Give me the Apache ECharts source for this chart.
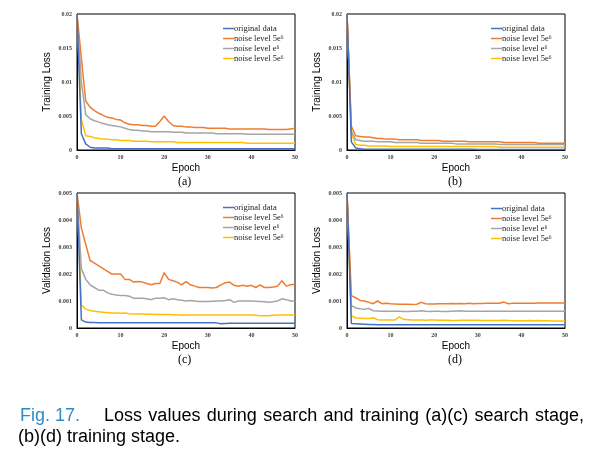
<!DOCTYPE html>
<html><head><meta charset="utf-8">
<script src="https://cdn.jsdelivr.net/npm/echarts@6/dist/echarts.min.js"></script>
<style>html,body{margin:0;padding:0;background:#fff}#c{width:595px;height:454px}</style>
</head><body><div id="c"></div>
<script>
const epochs = [0,1,2,3,4,5,6,7,8,9,10,11,12,13,14,15,16,17,18,19,20,21,22,23,24,25,26,27,28,29,30,31,32,33,34,35,36,37,38,39,40,41,42,43,44,45,46,47,48,49,50];
const xTicks = [0,10,20,30,40,50];
const seriesNames = ['original data','noise level 5e\u2076','noise level e\u2076','noise level 5e\u2076\u200b'];
const panelLetters = ['(a)','(b)','(c)','(d)'];
const yTitles = ['Training Loss','Training Loss','Validation Loss','Validation Loss'];

// (a) training loss, search stage
const A_orig = [0.0200,0.0024,0.0009,0.0004,0.0003,0.0003,0.0003,0.0003,0.0002,0.0002,
 0.0002,0.0002,0.0002,0.0002,0.0002,0.0002,0.0002,0.0002,0.0002,0.0002,
 0.0002,0.0002,0.0002,0.0002,0.0002,0.0002,0.0002,0.0002,0.0002,0.0002,
 0.0002,0.0002,0.0002,0.0002,0.0002,0.0002,0.0002,0.0002,0.0002,0.0002,
 0.0002,0.0002,0.0002,0.0002,0.0002,0.0002,0.0002,0.0002,0.0002,0.0002,0.0002];
const A_n1 = [0.0200,0.0135,0.0072,0.0063,0.0058,0.0054,0.0051,0.0048,0.0047,0.0045,
 0.0044,0.0040,0.0038,0.0037,0.0037,0.0036,0.0036,0.0035,0.0035,0.0042,
 0.0050,0.0042,0.0036,0.0035,0.0035,0.0034,0.0034,0.0033,0.0033,0.0033,
 0.0032,0.0032,0.0032,0.0032,0.0032,0.0031,0.0031,0.0031,0.0031,0.0031,
 0.0031,0.0031,0.0031,0.0031,0.0030,0.0030,0.0030,0.0030,0.0030,0.0031,0.0032];
const A_n2 = [0.0200,0.0100,0.0052,0.0046,0.0043,0.0041,0.0039,0.0037,0.0036,0.0035,
 0.0034,0.0032,0.0030,0.0029,0.0029,0.0028,0.0028,0.0027,0.0027,0.0027,
 0.0027,0.0027,0.0026,0.0026,0.0026,0.0025,0.0025,0.0025,0.0025,0.0025,
 0.0025,0.0025,0.0024,0.0024,0.0024,0.0024,0.0024,0.0024,0.0024,0.0023,
 0.0023,0.0023,0.0023,0.0023,0.0023,0.0023,0.0023,0.0023,0.0023,0.0023,0.0023];
const A_n3 = [0.0200,0.0045,0.0021,0.0020,0.0018,0.0017,0.0016,0.0016,0.0015,0.0015,
 0.0014,0.0014,0.0014,0.0013,0.0013,0.0013,0.0013,0.0012,0.0012,0.0012,
 0.0012,0.0012,0.0012,0.0011,0.0011,0.0011,0.0011,0.0011,0.0011,0.0011,
 0.0011,0.0011,0.0011,0.0011,0.0011,0.0011,0.0011,0.0011,0.0011,0.0010,
 0.0010,0.0010,0.0010,0.0010,0.0010,0.0010,0.0010,0.0010,0.0010,0.0010,0.0010];

// (b) training loss, training stage
const B_orig = [0.0200,0.0012,0.0003,0.0002,0.0001,0.0001,0.0001,0.0001,0.0001,0.0001,
 0.0001,0.0001,0.0001,0.0001,0.0001,0.0001,0.0001,0.0001,0.0001,0.0001,
 0.0001,0.0001,0.0001,0.0001,0.0001,0.0001,0.0001,0.0001,0.0001,0.0001,
 0.00008,0.00008,0.00008,0.00008,0.00008,0.00008,0.00008,0.00008,0.00008,0.00008,
 0.00008,0.00008,0.00008,0.00008,0.00008,0.00008,0.00008,0.00008,0.00008,0.00008,0.00008];
const B_n1 = [0.0200,0.0035,0.0021,0.0020,0.0019,0.0019,0.0018,0.0017,0.0017,0.0016,
 0.0016,0.0016,0.0015,0.0015,0.0015,0.0015,0.0015,0.0014,0.0014,0.0014,
 0.0014,0.0014,0.0013,0.0013,0.0013,0.0013,0.0013,0.0013,0.0012,0.0012,
 0.0012,0.0012,0.0012,0.0012,0.0012,0.0012,0.0011,0.0011,0.0011,0.0011,
 0.0011,0.0011,0.0011,0.0011,0.0010,0.0010,0.0010,0.0010,0.0010,0.0010,0.0010];
const B_n2 = [0.0200,0.0028,0.0015,0.0014,0.0013,0.0013,0.0013,0.0012,0.0012,0.0012,
 0.0012,0.0011,0.0011,0.0011,0.0011,0.0011,0.0011,0.0010,0.0010,0.0010,
 0.0010,0.0010,0.0010,0.0010,0.0010,0.0009,0.0009,0.0009,0.0009,0.0009,
 0.0009,0.0009,0.0009,0.0009,0.0009,0.0008,0.0008,0.0008,0.0008,0.0008,
 0.0008,0.0008,0.0008,0.0008,0.0008,0.0008,0.0008,0.0008,0.0008,0.0008,0.0008];
const B_n3 = [0.0200,0.0025,0.0008,0.0007,0.0007,0.0006,0.0006,0.0006,0.0006,0.0006,
 0.0005,0.0005,0.0005,0.0005,0.0005,0.0005,0.0005,0.0005,0.0005,0.0005,
 0.0005,0.0005,0.0005,0.0005,0.0005,0.0005,0.0005,0.0005,0.0005,0.0005,
 0.0005,0.0005,0.0005,0.0005,0.0005,0.0004,0.0004,0.0004,0.0004,0.0004,
 0.0004,0.0004,0.0004,0.0004,0.0004,0.0004,0.0004,0.0004,0.0004,0.0004,0.0004];

// (c) validation loss, search stage
const C_orig = [0.0050,0.00030,0.00022,0.00020,0.00020,0.00019,0.00019,0.00019,0.00019,0.00019,
 0.00019,0.00019,0.00019,0.00019,0.00019,0.00019,0.00019,0.00019,0.00019,0.00019,
 0.00019,0.00019,0.00019,0.00019,0.00019,0.00019,0.00019,0.00019,0.00019,0.00019,
 0.00019,0.00019,0.00019,0.00016,0.00017,0.00018,0.00018,0.00018,0.00018,0.00018,
 0.00018,0.00018,0.00018,0.00018,0.00018,0.00018,0.00018,0.00018,0.00018,0.00018,0.00018];
const C_n1 = [0.0050,0.0037,0.0031,0.0025,0.0024,0.0023,0.0022,0.0021,0.0020,0.0020,
 0.0020,0.0018,0.0018,0.0017,0.00172,0.0017,0.00165,0.0016,0.00165,0.00165,
 0.00205,0.0018,0.00175,0.0017,0.0016,0.00172,0.0016,0.00155,0.0015,0.0015,
 0.0015,0.00148,0.0015,0.0016,0.00168,0.0017,0.00158,0.00155,0.00158,0.00155,
 0.00158,0.0015,0.0016,0.0015,0.0015,0.00152,0.00155,0.00175,0.00155,0.0016,0.00162];
const C_n2 = [0.0050,0.0022,0.0018,0.0016,0.0015,0.0014,0.0014,0.0013,0.00125,0.00122,
 0.0012,0.0012,0.00118,0.0011,0.0011,0.0011,0.00108,0.00105,0.0011,0.0011,
 0.00112,0.00105,0.00108,0.00105,0.00103,0.0010,0.00102,0.0010,0.00098,0.00098,
 0.00098,0.00099,0.0010,0.0010,0.00102,0.00105,0.00095,0.0010,0.0010,0.0010,
 0.0010,0.00099,0.00098,0.00097,0.00095,0.00097,0.0010,0.00108,0.00105,0.0010,0.0010];
const C_n3 = [0.0050,0.00085,0.0007,0.00065,0.00062,0.0006,0.00058,0.00057,0.00056,0.00056,
 0.00055,0.00056,0.00053,0.00052,0.00052,0.00052,0.00051,0.00051,0.0005,0.0005,
 0.0005,0.0005,0.00049,0.00049,0.00048,0.00048,0.00048,0.00048,0.00048,0.00048,
 0.00048,0.00048,0.00048,0.00048,0.00048,0.00048,0.00048,0.00048,0.00048,0.00048,
 0.00048,0.00047,0.00045,0.00045,0.00045,0.00047,0.00048,0.00048,0.00048,0.00048,0.00048];

// (d) validation loss, training stage
const D_orig = [0.0050,0.00017,0.00016,0.00015,0.00014,0.00013,0.00013,0.00012,0.00012,0.00012,
 0.00012,0.00012,0.00012,0.00012,0.00012,0.00012,0.00012,0.00012,0.00012,0.00012,
 0.00012,0.00012,0.00012,0.00012,0.00012,0.00012,0.00012,0.00012,0.00012,0.00012,
 0.00012,0.00012,0.00012,0.00012,0.00012,0.00012,0.00012,0.00012,0.00012,0.00012,
 0.00012,0.00012,0.00012,0.00012,0.00012,0.00012,0.00012,0.00012,0.00012,0.00012,0.00012];
const D_n1 = [0.0050,0.0012,0.00112,0.00102,0.0010,0.00095,0.0009,0.0010,0.0009,0.00092,
 0.0009,0.00089,0.00088,0.00088,0.00088,0.00087,0.00088,0.00095,0.0009,0.00089,
 0.00089,0.0009,0.0009,0.0009,0.00091,0.0009,0.00091,0.0009,0.00092,0.0009,
 0.00091,0.00091,0.00092,0.00092,0.00092,0.00092,0.00096,0.0009,0.00092,0.00092,
 0.00092,0.00092,0.00092,0.00092,0.00093,0.00093,0.00093,0.00093,0.00093,0.00093,0.00093];
const D_n2 = [0.0050,0.00083,0.00074,0.00071,0.00069,0.00073,0.00064,0.00063,0.00062,0.00062,
 0.00062,0.00062,0.00062,0.00061,0.00061,0.00062,0.00062,0.00064,0.00062,0.00061,
 0.00062,0.00062,0.00061,0.00061,0.00062,0.00063,0.00064,0.00062,0.00062,0.00062,
 0.00062,0.00062,0.00062,0.00062,0.00062,0.00062,0.00062,0.00062,0.00062,0.00062,
 0.00062,0.00062,0.00062,0.00062,0.00062,0.00062,0.00062,0.00062,0.00062,0.00062,0.00062];
const D_n3 = [0.0050,0.00046,0.00037,0.00036,0.00035,0.00035,0.00038,0.00031,0.0003,0.0003,
 0.0003,0.0003,0.00041,0.00032,0.00031,0.0003,0.0003,0.0003,0.00029,0.0003,
 0.0003,0.00029,0.00029,0.00029,0.00028,0.00028,0.00029,0.00029,0.00029,0.00029,
 0.00029,0.00028,0.00028,0.00028,0.00028,0.00028,0.00029,0.00028,0.00027,0.00027,
 0.00027,0.00027,0.00028,0.00027,0.00028,0.00027,0.00027,0.00026,0.00026,0.00026,0.00026];

const captionLabel = 'Fig. 17.';
const captionLine1 = 'Loss values during search and training (a)(c) search stage,';
const captionLine2 = '(b)(d) training stage.';

const panels = [[A_orig,A_n1,A_n2,A_n3],[B_orig,B_n1,B_n2,B_n3],[C_orig,C_n1,C_n2,C_n3],[D_orig,D_n1,D_n2,D_n3]];
const yMax = [0.02,0.02,0.005,0.005];
const yStep = [0.005,0.005,0.001,0.001];
const colors = ['#4472C4','#ED7D31','#A5A5A5','#FFC000'];

const gridPos = [
  {left:77, top:14, width:218, height:136},
  {left:347, top:14, width:218, height:136},
  {left:77, top:193, width:218, height:135},
  {left:347, top:193, width:218, height:135}
];
const legendPos = [{left:223,top:24},{left:491,top:24},{left:223,top:203},{left:491,top:204}];

const serif = '"Liberation Serif","Times New Roman",serif';
const sans = '"Liberation Sans",Arial,sans-serif';

const grid=[], xAxis=[], yAxis=[], series=[], legend=[], graphic=[];
panels.forEach((p,i)=>{
  grid.push(Object.assign({show:true,borderColor:'#000',borderWidth:1,containLabel:false}, gridPos[i]));
  xAxis.push({type:'value',gridIndex:i,min:0,max:50,interval:10,
    name:'Epoch',nameLocation:'middle',nameGap:13,
    nameTextStyle:{fontFamily:sans,fontSize:10,color:'#000'},
    axisLine:{show:true,lineStyle:{color:'#000',width:1}},axisTick:{show:false},splitLine:{show:false},
    axisLabel:{fontFamily:serif,fontSize:6,color:'#404040',margin:4,fontWeight:'bold'}});
  yAxis.push({type:'value',gridIndex:i,min:0,max:yMax[i],interval:yStep[i],
    name:yTitles[i],nameLocation:'middle',nameGap:25,
    nameTextStyle:{fontFamily:sans,fontSize:10,color:'#000'},
    axisLine:{show:true,lineStyle:{color:'#000',width:1}},axisTick:{show:false},splitLine:{show:false},
    axisLabel:{fontFamily:serif,fontSize:6,color:'#404040',margin:5,fontWeight:'bold'}});
  p.forEach((arr,k)=>{
    series.push({type:'line',name:seriesNames[k],xAxisIndex:i,yAxisIndex:i,
      data:epochs.map((e,j)=>[e,arr[j]]),symbol:'none',clip:true,
      lineStyle:{color:colors[k],width:1.5},itemStyle:{color:colors[k]},
      animation:false,z:10-k});
  });
  legend.push(Object.assign({orient:'vertical',icon:'rect',itemWidth:11,itemHeight:1.5,itemGap:1,
    selectedMode:false,data:seriesNames.map((n,k)=>({name:n,itemStyle:{color:colors[k]}})),
    textStyle:{fontFamily:serif,fontSize:8.5,color:'#222',lineHeight:8,padding:[0,0,0,-5]},padding:0},legendPos[i]));
  const g = gridPos[i];
  graphic.push({type:'text',left:g.left+g.width/2-8,top:g.top+g.height+26,
    style:{text:panelLetters[i],font:'12px '+serif,fill:'#000'}});
});

// justified caption first line
const capFont = '18px "Liberation Sans", Arial, sans-serif';
const cv = document.createElement('canvas').getContext('2d');
cv.font = capFont;
const words = captionLine1.split(' ');
const startX = 104, endX = 584;
const wW = words.map(w=>cv.measureText(w).width);
const totalW = wW.reduce((a,b)=>a+b,0);
const gap = Math.max(5,(endX-startX-totalW)/(words.length-1));
let cx = startX;
words.forEach((w,k)=>{
  graphic.push({type:'text',left:cx,top:407,style:{text:w,font:capFont,fill:'#000'}});
  cx += wW[k]+gap;
});
graphic.push({type:'text',left:20,top:407,style:{text:captionLabel,font:capFont,fill:'#2E8BCB'}});
graphic.push({type:'text',left:18,top:428,style:{text:captionLine2,font:capFont,fill:'#000'}});

const chart = echarts.init(document.getElementById('c'),null,{renderer:'canvas'});
chart.setOption({animation:false,backgroundColor:'#fff',grid,xAxis,yAxis,series,legend,graphic});
</script></body></html>
